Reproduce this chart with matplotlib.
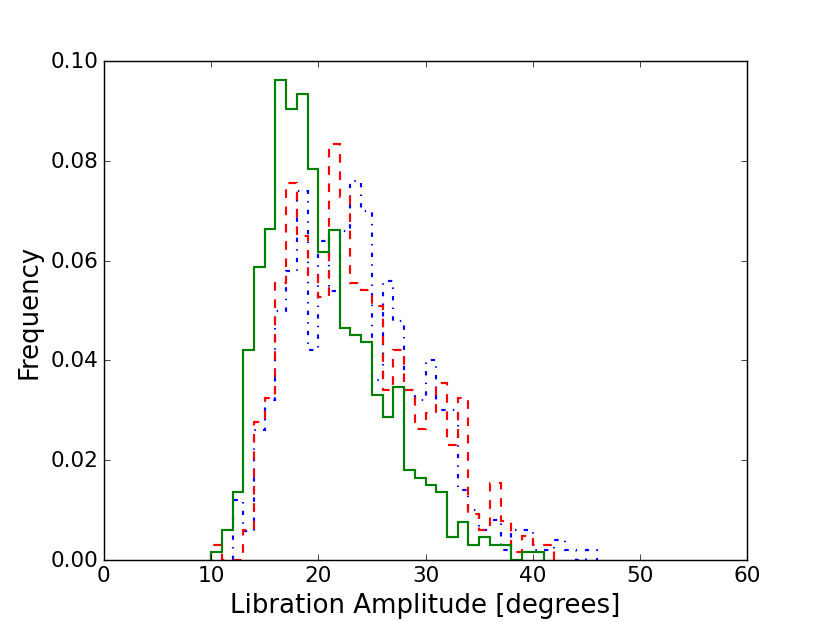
import numpy as np
import matplotlib
matplotlib.use('Agg')
import matplotlib.pyplot as plt

plt.style.use('classic')

# normalised counts per 1-degree bin
green_start = 10
green_freq = [0.0015, 0.006, 0.0135, 0.042, 0.0588, 0.0663, 0.0963, 0.0904,
              0.0934, 0.0784, 0.0618, 0.0661, 0.0466, 0.0452, 0.0436, 0.0331,
              0.0286, 0.0346, 0.0180, 0.0165, 0.0150, 0.0135, 0.0045, 0.0075,
              0.0030, 0.0045, 0.0030, 0.0030, 0.0, 0.0015, 0.0015]

red_start = 10
red_freq = [0.003, 0.0, 0.0, 0.006, 0.0277, 0.0324, 0.0556, 0.0757, 0.0649,
            0.0571, 0.0527, 0.0835, 0.0727, 0.0555, 0.0541, 0.051, 0.034,
            0.042, 0.034, 0.0262, 0.0294, 0.0355, 0.023, 0.0324, 0.0092,
            0.006, 0.0154, 0.0078, 0.0015, 0.0047, 0.003, 0.003]

blue_start = 12
blue_freq = [0.012, 0.0058, 0.026, 0.032, 0.050, 0.058, 0.074, 0.042, 0.064,
             0.054, 0.066, 0.076, 0.070, 0.036, 0.056, 0.048, 0.034, 0.032,
             0.040, 0.030, 0.030, 0.014, 0.010, 0.006, 0.008, 0.002, 0.006,
             0.006, 0.002, 0.002, 0.004, 0.002, 0.0, 0.002]


def edges(start, vals):
    return np.arange(start, start + len(vals) + 1)


fig, ax = plt.subplots(figsize=(8, 6), dpi=103.8)

ax.stairs(blue_freq, edges(blue_start, blue_freq), color='b', linestyle='-.', linewidth=1.5)
ax.stairs(red_freq, edges(red_start, red_freq), color='r', linestyle='--', linewidth=1.5)
ax.stairs(green_freq, edges(green_start, green_freq), color='g', linestyle='-', linewidth=1.5)

ax.set_xlim(0, 60)
ax.set_ylim(0, 0.10)
ax.set_xticks(np.arange(0, 61, 10))
ax.set_yticks(np.arange(0, 0.101, 0.02))
ax.tick_params(labelsize=15)
ax.set_xlabel('Libration Amplitude [degrees]', fontsize=18)
ax.set_ylabel('Frequency', fontsize=18)

fig.savefig('out.png', dpi=103.8, facecolor='white')
